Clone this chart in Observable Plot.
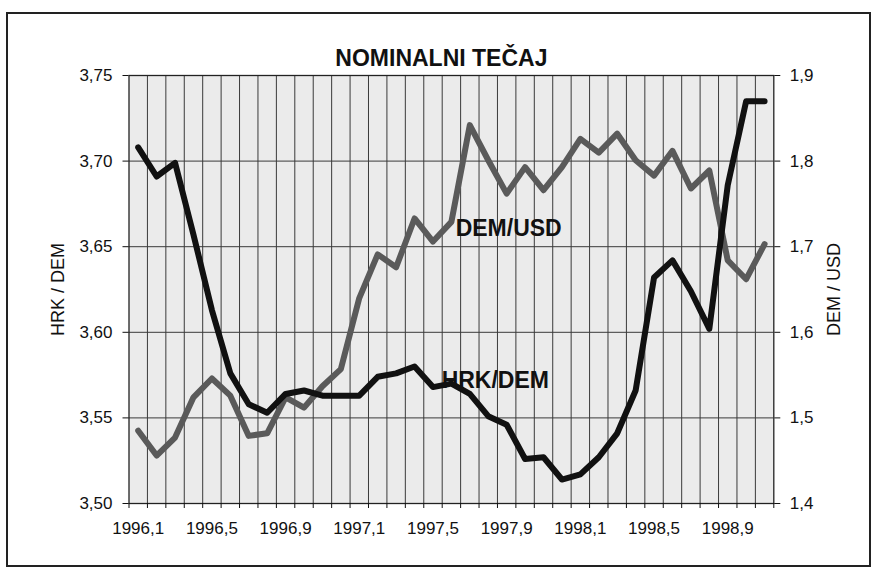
<!DOCTYPE html>
<html><head><meta charset="utf-8">
<script src="https://cdn.jsdelivr.net/npm/d3@7"></script>
<script src="https://cdn.jsdelivr.net/npm/@observablehq/plot@0.6"></script>
<style>
body{margin:0;background:#fff;}
#wrap{position:relative;width:874px;height:569px;overflow:hidden;}
#border{position:absolute;left:6px;top:12px;width:861px;height:551px;border:2px solid #222;pointer-events:none;}
</style></head><body>
<div id="wrap"><div id="chart"></div><div id="border"></div></div>
<script>
const title = "NOMINALNI TEČAJ";
const leftLabel = "HRK / DEM";
const rightLabel = "DEM / USD";
const months = [
  "1996,1","1996,2","1996,3","1996,4","1996,5","1996,6","1996,7","1996,8","1996,9","1996,10","1996,11","1996,12",
  "1997,1","1997,2","1997,3","1997,4","1997,5","1997,6","1997,7","1997,8","1997,9","1997,10","1997,11","1997,12",
  "1998,1","1998,2","1998,3","1998,4","1998,5","1998,6","1998,7","1998,8","1998,9","1998,10","1998,11"
];
const hrkDem = [3.708,3.691,3.699,3.657,3.613,3.576,3.558,3.553,3.564,3.566,3.563,3.563,
  3.563,3.574,3.576,3.580,3.568,3.570,3.564,3.551,3.546,3.526,3.527,3.514,
  3.517,3.527,3.541,3.566,3.632,3.642,3.624,3.602,3.686,3.735,3.735];
const demUsd = [1.485,1.456,1.477,1.524,1.546,1.526,1.479,1.482,1.524,1.512,1.537,1.557,
  1.640,1.691,1.676,1.733,1.706,1.729,1.842,1.801,1.762,1.793,1.766,1.793,
  1.826,1.810,1.832,1.801,1.783,1.812,1.768,1.789,1.684,1.662,1.703];
const leftTicks = [3.50,3.55,3.60,3.65,3.70,3.75];
const rightTicks = [1.4,1.5,1.6,1.7,1.8,1.9];
const seriesLabels = [
  {name:"DEM/USD", i:17.23, v:3.6603},
  {name:"HRK/DEM", i:16.47, v:3.5718}
];

const yDem = d3.scaleLinear([1.4, 1.9], [3.5, 3.75]);
const data = months.map((m, i) => ({i, m, hrk: hrkDem[i], dem: yDem(demUsd[i])}));
const fmt = (v, d) => v.toFixed(d).replace(".", ",");
const boundaries = d3.range(1, months.length).map(k => k - 0.5);
const allBounds = d3.range(0, months.length + 1).map(k => k - 0.5);
const labelIdx = d3.range(0, months.length, 4);

const chart = Plot.plot({
  width: 874, height: 569,
  marginLeft: 128.5, marginRight: 100.7, marginTop: 75, marginBottom: 66,
  x: {domain: [-0.5, months.length - 0.5]},
  y: {domain: [3.5, 3.75]},
  style: {fontFamily: "'Liberation Sans', Arial, sans-serif", fontSize: "17px", color: "#111", background: "transparent"},
  marks: [
    Plot.frame({fill: "#ebebeb", stroke: null}),
    Plot.ruleX(boundaries, {stroke: "#3a3a3a", strokeWidth: 1}),
    Plot.ruleY([3.55, 3.60, 3.65, 3.70], {stroke: "#3a3a3a", strokeWidth: 1}),
    Plot.frame({stroke: "#222", strokeWidth: 1.3}),
    Plot.axisY(leftTicks, {anchor: "left", tickSize: 6, tickPadding: 10.5, tickFormat: d => fmt(d, 2), label: null}),
    Plot.axisY(rightTicks.map(v => yDem(v)), {anchor: "right", tickSize: 6, tickPadding: 10, tickFormat: d => fmt(yDem.invert(d), 1), label: null}),
    Plot.axisX(allBounds, {anchor: "bottom", tickSize: 5, tickFormat: () => "", label: null}),
    Plot.axisX(labelIdx, {anchor: "bottom", tickSize: 0, tickPadding: 18, tickFormat: i => months[i], label: null}),
    Plot.text([leftLabel], {frameAnchor: "left", textAnchor: "middle", dx: -71, rotate: -90, fontSize: 18, fill: "#111"}),
    Plot.text([rightLabel], {frameAnchor: "right", textAnchor: "middle", dx: 60, rotate: -90, fontSize: 18, fill: "#111"}),
    Plot.text([title], {frameAnchor: "top", dx: -10, dy: -26, fontSize: 23, fontWeight: "bold", fill: "#111"}),
    Plot.text(seriesLabels, {x: "i", y: "v", text: "name", textAnchor: "start", fontSize: 23, fontWeight: "bold", fill: "#111"}),
    Plot.line(data, {x: "i", y: "dem", stroke: "#5a5a5a", strokeWidth: 6, strokeLinejoin: "round", strokeLinecap: "round"}),
    Plot.line(data, {x: "i", y: "hrk", stroke: "#111", strokeWidth: 6, strokeLinejoin: "round", strokeLinecap: "round"})
  ]
});
document.getElementById("chart").appendChild(chart);
</script>
</body></html>
